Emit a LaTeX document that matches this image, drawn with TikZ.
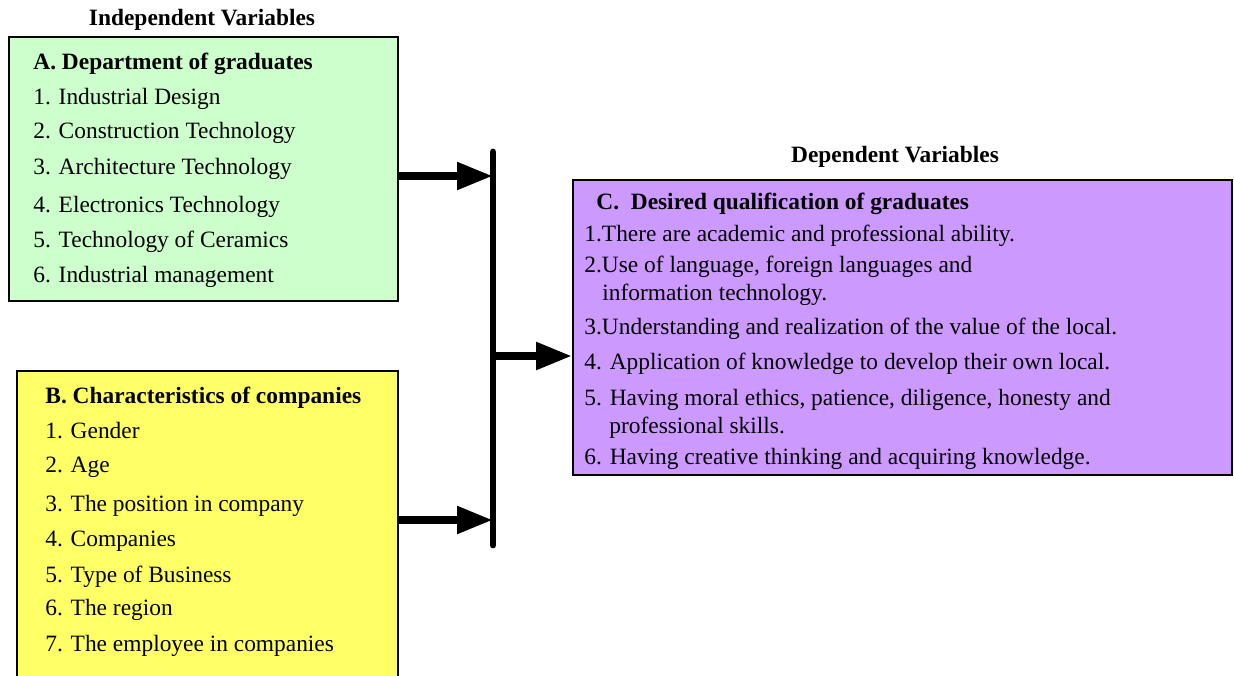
\documentclass[tikz,border=0pt]{standalone}
\usepackage{fontspec}
\setmainfont{Liberation Serif}
\usetikzlibrary{positioning,arrows.meta,calc}
\definecolor{boxgreen}{HTML}{CCFFCC}
\definecolor{boxyellow}{HTML}{FFFF66}
\definecolor{boxpurple}{HTML}{CC99FF}
\tikzstyle{varbox}=[rectangle, draw=black, line width=0.9pt, inner sep=0pt]
\tikzstyle{greenbox}=[varbox, fill=boxgreen, minimum width=194.5pt, minimum height=132pt]
\tikzstyle{yellowbox}=[varbox, fill=boxyellow, minimum width=190.5pt, minimum height=164.5pt]
\tikzstyle{purplebox}=[varbox, fill=boxpurple, minimum width=329.5pt, minimum height=147.5pt]
\tikzstyle{title}=[font=\fontsize{11.7}{13}\selectfont\bfseries, inner sep=0pt, yshift=-1pt]
\tikzstyle{head}=[font=\fontsize{11.7}{13}\selectfont\bfseries, inner sep=0pt, anchor=west, yshift=-1pt]
\tikzstyle{item}=[font=\fontsize{11.7}{13}\selectfont, inner sep=0pt, anchor=west, yshift=-1pt]
\tikzstyle{bar}=[-, line width=3.4pt, line cap=round]
\tikzstyle{bline}=[-{Triangle[length=18pt,width=13pt]}, line width=4pt]
\begin{document}
\begin{tikzpicture}[x=0.5pt, y=-0.5pt]
\useasboundingbox (0,0) rectangle (1234,675);
\clip (0,0) rectangle (1234,675);

    \node (indep) [title] at (202,18) {Independent Variables};
    \node (dep) [title] at (895,155) {Dependent Variables};

%  boxes
    \node (green) [greenbox] at (203.5,169) {};
    \node (yellow) [yellowbox] at (207.5,535.5) {};
    \node (purple) [purplebox] at (902.5,327.5) {};

%  A
    \node (ahead) [head] at (33,62) {A. Department of graduates};
    \foreach \i/\y/\t in {1/97/{1. Industrial Design}, 2/131/{2. Construction Technology},
        3/167/{3. Architecture Technology}, 4/205/{4. Electronics Technology},
        5/240/{5. Technology of Ceramics}, 6/275/{6. Industrial management}}
      \node (a\i) [item] at (33,\y) {\t};

%  B
    \node (bhead) [head] at (45,396) {B. Characteristics of companies};
    \foreach \i/\y/\t in {1/429/{1. Gender}, 2/465/{2. Age}, 3/504/{3. The position in company},
        4/539/{4. Companies}, 5/575/{5. Type of Business}, 6/608/{6. The region},
        7/644/{7. The employee in companies}}
      \node (b\i) [item] at (45,\y) {\t};

%  C
    \node (chead) [head] at (596,202) {C.\ \ Desired qualification of graduates};
    \foreach \i/\x/\y/\t in {1/584/234/{1.There are academic and professional ability.},
        2/584/265/{2.Use of language, foreign languages and},
        2b/602/293/{information technology.},
        3/584/327/{3.Understanding and realization of the value of the local.},
        4/584/362/{4. Application of knowledge to develop their own local.},
        5/584/398/{5. Having moral ethics, patience, diligence, honesty and},
        5b/609/426/{professional skills.},
        6/584/457/{6. Having creative thinking and acquiring knowledge.}}
      \node (c\i) [item] at (\x,\y) {\t};

%  bar and arrows
    \coordinate (bartop) at (493,152);
    \coordinate (barbot) at (493,545);
    \coordinate (barA) at (493,176);
    \coordinate (barB) at (493,520);
    \coordinate (barC) at (493,356);
    \draw[bar] (bartop) -- (barbot);

    \draw[bline] (green.east |- barA) -- (barA);
    \draw[bline] (yellow.east |- barB) -- (barB);
    \draw[bline] (barC) -- (purple.west |- barC);

\end{tikzpicture}
\end{document}
